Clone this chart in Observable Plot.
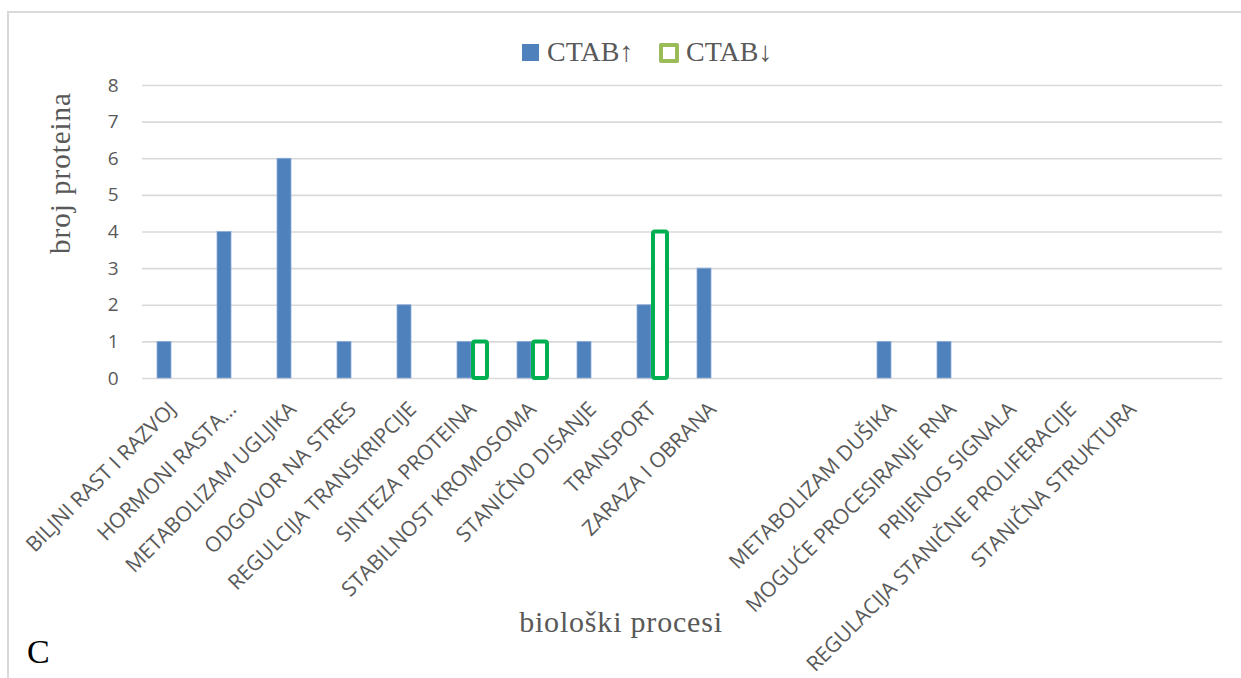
<!DOCTYPE html>
<html>
<head>
<meta charset="utf-8">
<script src="https://cdn.jsdelivr.net/npm/d3@7"></script>
<script src="https://cdn.jsdelivr.net/npm/@observablehq/plot@0.6"></script>
<style>
  html, body { margin: 0; padding: 0; background: #fff; overflow: hidden; width: 1241px; height: 678px; }
  #wrap { position: relative; width: 1241px; height: 678px; }
  #frame { position: absolute; left: 7px; top: 11px; width: 1400px; height: 900px;
           border-top: 2px solid #d9d9d9; border-left: 2px solid #d9d9d9; }
  #chart { position: absolute; left: 0; top: 0; }
  .lg { position: absolute; font-family: "Liberation Serif", serif; font-size: 28px; color: #595959; line-height: 1; }
  .sw { position: absolute; box-sizing: border-box; }
  .title { position: absolute; font-family: "Liberation Serif", serif; color: #595959; white-space: nowrap; }
</style>
</head>
<body>
<div id="wrap">
  <div id="frame"></div>
  <div id="chart"></div>
  <div class="sw" style="left:522px;top:44px;width:17px;height:17px;background:#4F81BD;"></div>
  <div class="lg" style="left:547px;top:38px;">CTAB↑</div>
  <div class="sw" style="left:659px;top:43px;width:20px;height:20px;border:4px solid #9BBB59;border-radius:2px;background:#fff;"></div>
  <div class="lg" style="left:686px;top:38px;">CTAB↓</div>
  <div class="title" style="left:60px;top:173px;font-size:29px;letter-spacing:1px;transform:translate(-50%,-50%) rotate(-90deg);">broj proteina</div>
  <div class="title" style="left:621px;top:622px;font-size:30px;letter-spacing:0.8px;transform:translate(-50%,-50%);">biološki procesi</div>
  <div class="title" style="left:27px;top:633px;font-size:34px;color:#000;">C</div>
</div>
<script>
const categories = [
  "BILJNI RAST I RAZVOJ",
  "HORMONI RASTA…",
  "METABOLIZAM UGLJIKA",
  "ODGOVOR NA STRES",
  "REGULCIJA TRANSKRIPCIJE",
  "SINTEZA PROTEINA",
  "STABILNOST KROMOSOMA",
  "STANIČNO DISANJE",
  "TRANSPORT",
  "ZARAZA I OBRANA",
  " ",
  "  ",
  "METABOLIZAM DUŠIKA",
  "MOGUĆE PROCESIRANJE RNA",
  "PRIJENOS SIGNALA",
  "REGULACIJA STANIČNE PROLIFERACIJE",
  "STANIČNA STRUKTURA",
  "   "
];
const ctabUp   = [1, 4, 6, 1, 2, 1, 1, 1, 2, 3, 0, 0, 1, 1, 0, 0, 0, 0];
const ctabDown = [0, 0, 0, 0, 0, 1, 1, 0, 4, 0, 0, 0, 0, 0, 0, 0, 0, 0];
const yTicks = [0, 1, 2, 3, 4, 5, 6, 7, 8];

const upRows = categories.map((c, i) => ({cat: c, v: ctabUp[i]})).filter(d => d.v > 0);
const downRows = categories.map((c, i) => ({cat: c, v: ctabDown[i]})).filter(d => d.v > 0);

const chart = Plot.plot({
  width: 1241,
  height: 678,
  marginLeft: 142,
  marginRight: 19,
  marginTop: 85,
  marginBottom: 300,
  style: {background: "transparent", fontFamily: "'Open Sans', sans-serif", overflow: "visible"},
  x: {domain: categories, padding: 0, axis: null},
  y: {domain: [0, 8], axis: null},
  marks: [
    Plot.ruleY(yTicks, {stroke: "#d9d9d9", strokeWidth: 1.6}),
    Plot.barY(upRows, {x: "cat", y: "v", fill: "#4F81BD", stroke: "#8fadd8", strokeWidth: 0.8, insetLeft: 15, insetRight: 31}),
    Plot.barY(downRows, {x: "cat", y: "v", fill: "#fff", stroke: "#00B050", strokeWidth: 4, insetLeft: 31, insetRight: 15, rx: 2}),
    Plot.axisY({ticks: yTicks, tickSize: 0, tickPadding: 24, fontSize: 19, color: "#595959", label: null, fontFamily: "'Open Sans', sans-serif"}),
    Plot.text(categories, {x: d => d, text: d => d, frameAnchor: "bottom", dx: 5, dy: 32, rotate: -45, textAnchor: "end", lineAnchor: "bottom", fontSize: 21, fill: "#595959"})
  ]
});
document.getElementById("chart").appendChild(chart);
</script>
</body>
</html>
